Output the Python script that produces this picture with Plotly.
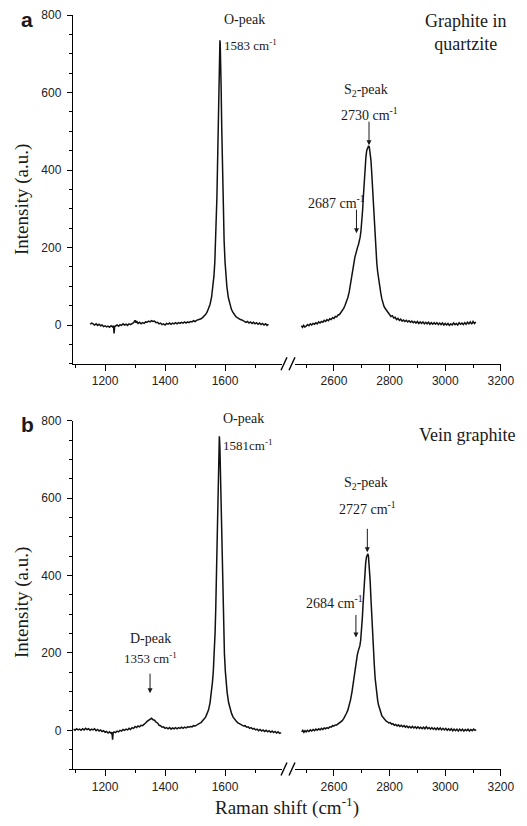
import plotly.graph_objects as go

# ---------------- data ----------------
# panel a: graphite in quartzite, left segment
a_left_x = [1150, 1155, 1160, 1165, 1170, 1175, 1180, 1185, 1190, 1195,
            1200, 1205, 1210, 1215, 1220, 1225, 1228, 1230, 1232, 1235,
            1240, 1245, 1250, 1255, 1260, 1265, 1270, 1275, 1280, 1285,
            1290, 1295, 1300, 1303, 1306, 1310, 1315, 1320, 1325, 1330,
            1335, 1340, 1345, 1350, 1355, 1360, 1365, 1370, 1375, 1380,
            1385, 1390, 1395, 1400, 1405, 1410, 1415, 1420, 1425, 1430,
            1435, 1440, 1445, 1450, 1455, 1460, 1465, 1470, 1475, 1480,
            1485, 1490, 1495, 1500, 1505, 1510, 1515, 1520, 1525, 1530,
            1535, 1540, 1545, 1550, 1555, 1560, 1563, 1566, 1569, 1571,
            1573, 1575, 1577, 1579, 1581, 1582, 1583, 1584, 1585, 1587,
            1589, 1591, 1593, 1595, 1597, 1600, 1603, 1606, 1611, 1616,
            1621, 1626, 1631, 1636, 1641, 1646, 1651, 1656, 1661, 1665,
            1670, 1675, 1680, 1685, 1690, 1695, 1700, 1705, 1710, 1715,
            1720, 1725, 1730, 1735, 1740, 1745]
a_left_y = [2, 5, 3, 0, 3, -1, 2, -2, 0, -4,
            -2, -5, -3, -6, -2, -5, -2, -22, -4, -3,
            0, -3, 1, -1, 3, 0, 2, -1, 3, 1,
            4, 6, 12, 6, 9, 4, 7, 3, 6, 4,
            8, 7, 10, 8, 11, 9, 10, 6, 7, 3,
            5, 1, 3, 0, 4, 2, 5, 2, 5, 3,
            6, 3, 6, 4, 7, 5, 8, 5, 8, 6,
            9, 8, 11, 9, 12, 13, 15, 16, 19, 22,
            27, 33, 41, 53, 71, 100, 126, 163, 217, 267,
            331, 412, 510, 614, 701, 726, 735, 726, 701, 614,
            510, 412, 331, 267, 217, 163, 126, 100, 71, 53,
            41, 33, 27, 22, 19, 16, 14, 13, 11, 11,
            7, 9, 5, 8, 4, 7, 3, 6, 2, 5,
            1, 4, 0, 3, -1, 2]

# panel a: right segment
a_right_x = [2483, 2487, 2491, 2495, 2500, 2505, 2510, 2515, 2520, 2525,
             2530, 2535, 2540, 2545, 2550, 2555, 2560, 2565, 2570, 2575,
             2580, 2585, 2590, 2595, 2600, 2605, 2610, 2615, 2620, 2625,
             2630, 2635, 2640, 2645, 2650, 2655, 2660, 2665, 2670, 2675,
             2679, 2682, 2685, 2688, 2691, 2694, 2697, 2700, 2703, 2706,
             2709, 2712, 2715, 2718, 2721, 2724, 2727, 2730, 2733, 2736,
             2739, 2742, 2745, 2748, 2751, 2754, 2757, 2760, 2764, 2768,
             2772, 2776, 2780, 2785, 2790, 2795, 2800, 2805, 2810, 2815,
             2820, 2825, 2830, 2835, 2840, 2845, 2850, 2855, 2860, 2865,
             2870, 2875, 2880, 2885, 2890, 2895, 2900, 2905, 2910, 2915,
             2920, 2925, 2930, 2935, 2940, 2945, 2950, 2955, 2960, 2965,
             2970, 2975, 2980, 2985, 2990, 2995, 3000, 3005, 3010, 3015,
             3020, 3025, 3030, 3035, 3040, 3045, 3050, 3055, 3060, 3065,
             3070, 3075, 3080, 3085, 3090, 3095, 3100, 3105, 3110]
a_right_y = [-2, -6, -1, -5, -3, 1, -2, 3, 0, 4,
             2, 6, 3, 8, 5, 9, 7, 12, 9, 14,
             11, 16, 14, 19, 17, 22, 21, 26, 27, 32,
             36, 43, 51, 60, 71, 86, 105, 128, 152, 174,
             188, 196, 201, 207, 215, 226, 242, 265, 296, 334,
             372, 407, 434, 451, 459, 461, 460, 448, 425, 390,
             345, 300, 258, 220, 188, 160, 138, 120, 102, 84,
             68, 56, 48, 42, 37, 31, 28, 22, 24, 18,
             20, 14, 17, 12, 15, 10, 13, 9, 12, 8,
             11, 7, 10, 6, 9, 5, 9, 4, 8, 4,
             8, 3, 7, 3, 7, 2, 6, 2, 6, 2,
             6, 1, 5, 1, 5, 0, 4, 0, 4, -1,
             3, 0, 5, 1, 4, 0, 6, 2, 5, 1,
             6, 2, 7, 3, 8, 2, 9, 4, 8]

# panel b: vein graphite, left segment
b_left_x = [1095, 1100, 1105, 1110, 1115, 1120, 1125, 1130, 1135, 1140,
            1145, 1150, 1155, 1160, 1165, 1170, 1175, 1180, 1185, 1190,
            1195, 1200, 1205, 1210, 1215, 1220, 1223, 1225, 1227, 1230,
            1235, 1240, 1245, 1250, 1255, 1260, 1265, 1270, 1275, 1280,
            1285, 1290, 1295, 1300, 1305, 1310, 1315, 1320, 1325, 1330,
            1335, 1340, 1345, 1350, 1355, 1360, 1365, 1370, 1375, 1380,
            1385, 1390, 1395, 1400, 1405, 1410, 1415, 1420, 1425, 1430,
            1435, 1440, 1445, 1450, 1455, 1460, 1465, 1470, 1475, 1480,
            1485, 1490, 1495, 1500, 1505, 1510, 1515, 1520, 1525, 1530,
            1535, 1540, 1545, 1550, 1555, 1558, 1561, 1564, 1567, 1569,
            1571, 1573, 1575, 1577, 1579, 1580, 1581, 1582, 1583, 1585,
            1587, 1589, 1591, 1593, 1595, 1598, 1601, 1604, 1607, 1612,
            1617, 1622, 1627, 1632, 1637, 1642, 1647, 1652, 1657, 1662,
            1667, 1672, 1677, 1682, 1687, 1692, 1697, 1702, 1707, 1712,
            1717, 1722, 1727, 1732, 1737, 1742, 1747, 1752, 1757, 1762,
            1767, 1772, 1777, 1782, 1787]
b_left_y = [3, 0, 4, 1, 3, 0, 4, 1, 5, 2,
            4, 0, 3, 1, 4, -1, 2, -2, 1, -3,
            -1, -5, -3, -7, -4, -8, -5, -24, -6, -4,
            -6, -2, -4, 0, -2, 2, 0, 3, 1, 5,
            2, 7, 5, 10, 7, 11, 9, 13, 12, 17,
            19, 23, 26, 29, 31, 27, 26, 21, 19, 13,
            12, 8, 9, 5, 7, 4, 7, 3, 6, 4,
            7, 4, 7, 5, 8, 5, 8, 6, 9, 8,
            10, 9, 12, 11, 14, 15, 18, 20, 24, 28,
            34, 43, 53, 71, 98, 124, 153, 198, 255, 312,
            380, 462, 557, 653, 728, 749, 760, 749, 728, 653,
            557, 462, 380, 312, 255, 198, 153, 124, 98, 71,
            53, 43, 34, 28, 24, 20, 18, 15, 14, 11,
            12, 8, 9, 5, 7, 3, 5, 1, 3, -1,
            2, -2, 1, -3, 0, -4, -1, -5, -2, -6,
            -3, -7, -4, -8, -6]

# panel b: right segment
b_right_x = [2484, 2488, 2492, 2496, 2500, 2505, 2510, 2515, 2520, 2525,
             2530, 2535, 2540, 2545, 2550, 2555, 2560, 2565, 2570, 2575,
             2580, 2585, 2590, 2595, 2600, 2605, 2610, 2615, 2620, 2625,
             2630, 2635, 2640, 2645, 2650, 2655, 2660, 2665, 2669, 2673,
             2677, 2681, 2684, 2687, 2690, 2693, 2696, 2699, 2702, 2705,
             2708, 2711, 2714, 2717, 2720, 2722, 2724, 2727, 2730, 2733,
             2736, 2739, 2742, 2745, 2748, 2751, 2754, 2757, 2760, 2764,
             2768, 2772, 2777, 2782, 2787, 2792, 2797, 2802, 2807, 2812,
             2817, 2822, 2827, 2832, 2837, 2842, 2847, 2852, 2857, 2862,
             2867, 2872, 2877, 2882, 2887, 2892, 2897, 2902, 2907, 2912,
             2917, 2922, 2927, 2932, 2937, 2942, 2947, 2952, 2957, 2962,
             2967, 2972, 2977, 2982, 2987, 2992, 2997, 3002, 3007, 3012,
             3017, 3022, 3027, 3032, 3037, 3042, 3047, 3052, 3057, 3062,
             3067, 3072, 3077, 3082, 3087, 3092, 3097, 3102, 3107, 3111]
b_right_y = [-4, 0, -5, -1, -4, 0, -3, 1, -2, 2,
             -1, 3, 0, 4, 1, 5, 2, 6, 4, 7,
             5, 9, 8, 12, 11, 14, 14, 17, 18, 22,
             25, 30, 36, 44, 52, 64, 80, 100, 122, 145,
             165, 182, 195, 204, 210, 218, 232, 255, 290, 330,
             370, 405, 432, 448, 455, 456, 450, 425, 388, 340,
             290, 248, 210, 170, 135, 108, 90, 78, 66, 54,
             45, 38, 33, 27, 24, 22, 19, 20, 16, 17,
             13, 15, 11, 14, 10, 13, 9, 12, 8, 11,
             7, 10, 6, 10, 6, 9, 5, 9, 5, 8,
             4, 8, 4, 9, 4, 7, 3, 7, 3, 6,
             2, 6, 2, 6, 1, 5, 1, 5, 0, 4,
             0, 4, -1, 3, -1, 3, -2, 3, -1, 3,
             -2, 2, -1, 3, -2, 2, -1, 3, 0, 2]

x_left_range = [1093, 1790]
x_right_range = [2460, 3200.5]
y_range = [-100, 800]

# ---------------- layout geometry ----------------
# The page body has an 8 px margin, so the figure starts 8 px right/down of the window.
W, H = 527, 826
OFF = 8
ML, MT = 73 - OFF, 15 - OFF
MR = W - (501 - OFF)
MB = H - (769 - OFF)
PW = W - ML - MR
PH = H - MT - MB


def fx(px):
    """window x pixel -> paper fraction"""
    return (px - OFF - ML) / PW


def fy(py):
    """window y pixel -> paper fraction"""
    return (H - MB - (py - OFF)) / PH


SERIF = "Liberation Serif, Times New Roman, serif"
SANS = "Liberation Sans, Arial, sans-serif"
INK = "#1a1a1a"
LINE = dict(color="#111111", width=1.5)

fig = go.Figure()
fig.add_trace(go.Scatter(x=a_left_x, y=a_left_y, mode="lines", line=LINE, xaxis="x", yaxis="y"))
fig.add_trace(go.Scatter(x=a_right_x, y=a_right_y, mode="lines", line=LINE, xaxis="x2", yaxis="y"))
fig.add_trace(go.Scatter(x=b_left_x, y=b_left_y, mode="lines", line=LINE, xaxis="x3", yaxis="y2"))
fig.add_trace(go.Scatter(x=b_right_x, y=b_right_y, mode="lines", line=LINE, xaxis="x4", yaxis="y2"))

xcommon = dict(showline=True, linecolor="black", linewidth=1.4, ticks="outside", ticklen=6,
               tickwidth=1.3, tickcolor="black", dtick=200, tick0=0,
               minor=dict(dtick=100, tick0=0, ticks="outside", ticklen=3, tickwidth=1.2, tickcolor="black"),
               tickfont=dict(family=SANS, size=12, color="#222"), showgrid=False, zeroline=False,
               fixedrange=True, automargin=False)
ycommon = dict(showline=True, linecolor="black", linewidth=1.4, ticks="outside", ticklen=5,
               tickwidth=1.3, tickcolor="black", dtick=200, tick0=0, range=y_range,
               minor=dict(dtick=50, tick0=0, ticks="outside", ticklen=3, tickwidth=1.1, tickcolor="black"),
               tickfont=dict(family=SANS, size=12, color="#222"), showgrid=False, zeroline=False,
               ticklabelstandoff=3, automargin=False)

top_dom = [fy(363.75), 1.0]
bot_dom = [0.0, fy(420.7)]
left_dom = [0.0, fx(282)]
right_dom = [fx(295), 1.0]

fig.update_layout(
    width=W, height=H, margin=dict(l=ML, r=MR, t=MT, b=MB),
    paper_bgcolor="white", plot_bgcolor="white", showlegend=False,
    xaxis=dict(xcommon, domain=left_dom, range=x_left_range, anchor="y"),
    xaxis2=dict(xcommon, domain=right_dom, range=x_right_range, anchor="y"),
    xaxis3=dict(xcommon, domain=left_dom, range=x_left_range, anchor="y2"),
    xaxis4=dict(xcommon, domain=right_dom, range=x_right_range, anchor="y2"),
    yaxis=dict(ycommon, domain=top_dom, anchor="x"),
    yaxis2=dict(ycommon, domain=bot_dom, anchor="x3"),
)


def txt(text, xref, yref, x, y, size=14, xanchor="center", family=SERIF, **kw):
    return dict(text=text, xref=xref, yref=yref, x=x, y=y, showarrow=False,
                xanchor=xanchor, yanchor="middle",
                font=dict(family=family, size=size, color=INK), **kw)


def arrow(xref, yref, x, y, length):
    return dict(text="", xref=xref, yref=yref, x=x, y=y, showarrow=True, ax=0, ay=-length,
                arrowhead=2, arrowsize=1, arrowwidth=1, arrowcolor=INK, standoff=0)


ann = [
    # panel a
    txt("O-peak", "paper", "paper", fx(222), fy(20), 14, "left"),
    txt("1583 cm<sup>-1</sup>", "paper", "paper", fx(222), fy(45), 13, "left"),
    txt("Graphite in<br>quartzite", "x2", "y", 3073, 756, 18),
    txt("S<sub>2</sub>-peak", "x2", "y", 2716, 604, 14),
    txt("2730 cm<sup>-1</sup>", "x2", "y", 2727, 545, 14),
    arrow("x2", "y", 2726, 464, 25),
    txt("2687 cm<sup>-1</sup>", "x2", "y", 2610, 317, 14),
    arrow("x2", "y", 2681, 237, 25),
    # panel b
    txt("O-peak", "paper", "paper", fx(221), fy(418), 14, "left"),
    txt("1581cm<sup>-1</sup>", "paper", "paper", fx(221), fy(445), 13, "left"),
    txt("Vein graphite", "x4", "y2", 3080, 763, 18),
    txt("S<sub>2</sub>-peak", "x4", "y2", 2714, 639, 14),
    txt("2727 cm<sup>-1</sup>", "x4", "y2", 2722, 574, 14),
    arrow("x4", "y2", 2720, 460, 25),
    txt("2684 cm<sup>-1</sup>", "x4", "y2", 2603, 331, 14),
    arrow("x4", "y2", 2679, 240, 24),
    txt("D-peak", "x3", "y2", 1350, 238, 14),
    txt("1353 cm<sup>-1</sup>", "x3", "y2", 1350, 186, 13),
    arrow("x3", "y2", 1350, 96, 21),
    # panel letters, axis titles
    txt("<b>a</b>", "paper", "paper", fx(27), fy(20), 21, family=SANS),
    txt("<b>b</b>", "paper", "paper", fx(27), fy(425), 21, family=SANS),
    txt("Intensity (a.u.)", "paper", "paper", fx(22), fy(200), 19, textangle=-90),
    txt("Intensity (a.u.)", "paper", "paper", fx(22), fy(603), 19, textangle=-90),
    txt("Raman shift (cm<sup>-1</sup>)", "paper", "paper", fx(287), fy(806), 19),
]
fig.update_layout(annotations=ann)

# axis-break marks
shapes = []
for axis_py in (363.75, 769):
    for x0 in (281, 289):
        shapes.append(dict(type="line", xref="paper", yref="paper",
                           x0=fx(x0), y0=fy(axis_py + 6.5), x1=fx(x0 + 6), y1=fy(axis_py - 6.5),
                           line=dict(color="black", width=1.4)))
fig.update_layout(shapes=shapes)

fig.write_html("out.html")
